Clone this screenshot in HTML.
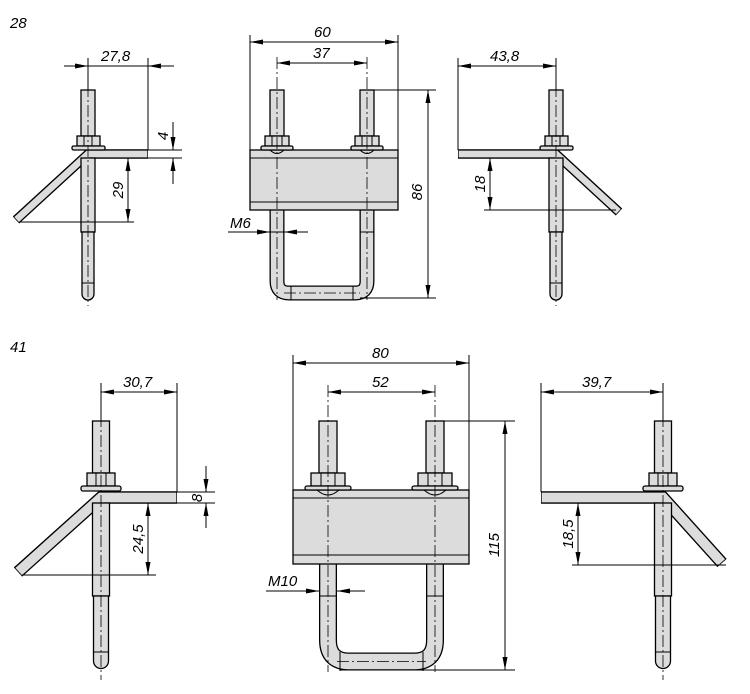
<!DOCTYPE html>
<html><head><meta charset="utf-8"><style>
html,body{margin:0;padding:0;background:#fff;}
svg{display:block;}
text{font-family:"Liberation Sans",sans-serif;font-style:italic;font-size:15px;fill:#000;}
.l{stroke:#000;stroke-width:1;fill:none;}
.c{stroke:#000;stroke-width:0.8;stroke-dasharray:12 3 2 3;fill:none;}
.b{fill:#dcdcdc;stroke:#000;stroke-width:1.3;}
.d{stroke:#000;stroke-width:1;fill:none;}
</style></head><body>
<svg width="750" height="694" viewBox="0 0 750 694" xmlns="http://www.w3.org/2000/svg">
<defs>
<marker id="a" markerUnits="userSpaceOnUse" markerWidth="14" markerHeight="6" refX="13" refY="2.5" orient="auto-start-reverse"><path d="M0,0 L13,2.5 L0,5 z" fill="#000"/></marker>
</defs>
<text x="10" y="28">28</text>
<text x="10" y="352">41</text>

<!-- ===== TOP LEFT ===== -->
<g>
<path d="M148,154 H88 L16,220" stroke="#000" stroke-width="9.5" fill="none"/>
<path d="M147.3,154 H88 L16.6,219.5" stroke="#dcdcdc" stroke-width="6.8" fill="none"/>
<rect class="b" x="81" y="90" width="14" height="46"/>
<rect class="b" x="81" y="158" width="14" height="74"/>
<path class="b" d="M82,232 V294 A6,6 0 0 0 94,294 V232 Z"/>
<line class="l" x1="82" y1="283" x2="94" y2="283"/>
<rect class="b" x="77" y="136" width="23" height="10"/>
<line class="l" x1="84" y1="136" x2="84" y2="146"/><line class="l" x1="92" y1="136" x2="92" y2="146"/>
<rect class="b" x="72" y="146" width="33" height="4" rx="1.5"/>
<line class="c" x1="88" y1="85" x2="88" y2="306"/>
<line class="d" x1="88" y1="58" x2="88" y2="90"/>
<line class="d" x1="148" y1="58" x2="148" y2="150"/>
<line class="d" x1="88" y1="66" x2="148" y2="66"/>
<line class="d" x1="64" y1="66" x2="88" y2="66" marker-end="url(#a)"/>
<line class="d" x1="174" y1="66" x2="148" y2="66" marker-end="url(#a)"/>
<text x="101" y="61">27,8</text>
<line class="d" x1="148" y1="150" x2="182" y2="150"/>
<line class="d" x1="148" y1="158" x2="182" y2="158"/>
<line class="d" x1="173" y1="122" x2="173" y2="150" marker-end="url(#a)"/>
<line class="d" x1="173" y1="184" x2="173" y2="158" marker-end="url(#a)"/>
<text transform="translate(168,136) rotate(-90)" text-anchor="middle">4</text>
<line class="d" x1="20" y1="222" x2="134" y2="222"/>
<line class="d" x1="128" y1="158" x2="128" y2="222" marker-start="url(#a)" marker-end="url(#a)"/>
<text transform="translate(123,190) rotate(-90)" text-anchor="middle">29</text>
</g>

<!-- ===== TOP MIDDLE ===== -->
<g>
<rect class="b" x="270" y="90" width="14" height="46"/>
<rect class="b" x="360" y="90" width="14" height="46"/>
<path d="M277,210 V281 Q277,293 289,293 H355 Q367,293 367,281 V210" stroke="#000" stroke-width="15" fill="none"/>
<path d="M277,210 V281 Q277,293 289,293 H355 Q367,293 367,281 V210" stroke="#dcdcdc" stroke-width="12.4" fill="none"/>
<line class="l" x1="270" y1="232" x2="284" y2="232"/><line class="l" x1="360" y1="232" x2="374" y2="232"/>
<line class="l" x1="291" y1="286" x2="291" y2="300"/><line class="l" x1="353" y1="286" x2="353" y2="300"/>
<rect class="b" x="250" y="150" width="148" height="60"/>
<line class="l" x1="250" y1="158" x2="398" y2="158"/>
<line class="l" x1="250" y1="202" x2="398" y2="202"/>
<rect class="b" x="265" y="136" width="24" height="10"/><rect class="b" x="355" y="136" width="24" height="10"/>
<line class="l" x1="272" y1="136" x2="272" y2="146"/><line class="l" x1="282" y1="136" x2="282" y2="146"/>
<line class="l" x1="362" y1="136" x2="362" y2="146"/><line class="l" x1="372" y1="136" x2="372" y2="146"/>
<rect class="b" x="261" y="146" width="32" height="4" rx="1.5"/><rect class="b" x="351" y="146" width="32" height="4" rx="1.5"/>
<path class="l" d="M270,150 Q277,157 284,150 M360,150 Q367,157 374,150"/>
<line class="c" x1="277" y1="57" x2="277" y2="300"/>
<line class="c" x1="367" y1="57" x2="367" y2="300"/>
<line class="c" x1="284" y1="293" x2="360" y2="293"/>
<line class="d" x1="250" y1="35" x2="250" y2="150"/>
<line class="d" x1="398" y1="35" x2="398" y2="150"/>
<line class="d" x1="250" y1="42" x2="398" y2="42" marker-start="url(#a)" marker-end="url(#a)"/>
<text x="314" y="37">60</text>
<line class="d" x1="277" y1="63" x2="367" y2="63" marker-start="url(#a)" marker-end="url(#a)"/>
<text x="313" y="58">37</text>
<line class="d" x1="374" y1="90" x2="436" y2="90"/>
<line class="d" x1="360" y1="298" x2="436" y2="298"/>
<line class="d" x1="428" y1="90" x2="428" y2="298" marker-start="url(#a)" marker-end="url(#a)"/>
<text transform="translate(422,192) rotate(-90)" text-anchor="middle">86</text>
<line class="d" x1="228" y1="232" x2="270" y2="232" marker-end="url(#a)"/>
<line class="d" x1="308" y1="232" x2="284" y2="232" marker-end="url(#a)"/>
<text x="230" y="228">M6</text>
</g>

<!-- ===== TOP RIGHT ===== -->
<g>
<path d="M458,154 H556 L619,212" stroke="#000" stroke-width="9.5" fill="none"/>
<path d="M458.7,154 H556 L618.4,211.5" stroke="#dcdcdc" stroke-width="6.8" fill="none"/>
<rect class="b" x="549" y="90" width="14" height="46"/>
<rect class="b" x="549" y="158" width="14" height="74"/>
<path class="b" d="M550,232 V294 A6,6 0 0 0 562,294 V232 Z"/>
<line class="l" x1="550" y1="283" x2="562" y2="283"/>
<rect class="b" x="545" y="136" width="23" height="10"/>
<line class="l" x1="552" y1="136" x2="552" y2="146"/><line class="l" x1="560" y1="136" x2="560" y2="146"/>
<rect class="b" x="540" y="146" width="33" height="4" rx="1.5"/>
<line class="c" x1="556" y1="85" x2="556" y2="306"/>
<line class="d" x1="458" y1="58" x2="458" y2="150"/>
<line class="d" x1="556" y1="58" x2="556" y2="90"/>
<line class="d" x1="458" y1="66" x2="556" y2="66" marker-start="url(#a)" marker-end="url(#a)"/>
<text x="490" y="61">43,8</text>
<line class="d" x1="484" y1="210" x2="616" y2="210"/>
<line class="d" x1="490" y1="158" x2="490" y2="210" marker-start="url(#a)" marker-end="url(#a)"/>
<text transform="translate(485,184) rotate(-90)" text-anchor="middle">18</text>
</g>

<!-- ===== BOTTOM LEFT ===== -->
<g>
<path d="M177,497.5 H101 L18,572" stroke="#000" stroke-width="12.5" fill="none"/>
<path d="M176.3,497.5 H101 L18.7,571.5" stroke="#dcdcdc" stroke-width="9.8" fill="none"/>
<rect class="b" x="92.5" y="421" width="17" height="52"/>
<rect class="b" x="92.5" y="503" width="17" height="93"/>
<path class="b" d="M93.5,596 V661 A7.5,7.5 0 0 0 108.5,661 V596 Z"/>
<line class="l" x1="94" y1="652" x2="108" y2="652"/>
<rect class="b" x="87" y="473" width="28" height="13"/>
<line class="l" x1="96" y1="473" x2="96" y2="486"/><line class="l" x1="106" y1="473" x2="106" y2="486"/>
<rect class="b" x="81" y="486" width="40" height="5" rx="2"/>
<line class="c" x1="101" y1="415" x2="101" y2="680"/>
<line class="d" x1="101" y1="383" x2="101" y2="421"/>
<line class="d" x1="177" y1="383" x2="177" y2="492"/>
<line class="d" x1="101" y1="392" x2="177" y2="392" marker-start="url(#a)" marker-end="url(#a)"/>
<text x="123" y="387">30,7</text>
<line class="d" x1="177" y1="492" x2="215" y2="492"/>
<line class="d" x1="177" y1="503" x2="215" y2="503"/>
<line class="d" x1="206" y1="466" x2="206" y2="492" marker-end="url(#a)"/>
<line class="d" x1="206" y1="528" x2="206" y2="503" marker-end="url(#a)"/>
<text transform="translate(202,498) rotate(-90)" text-anchor="middle">8</text>
<line class="d" x1="22" y1="575" x2="156" y2="575"/>
<line class="d" x1="148" y1="503" x2="148" y2="575" marker-start="url(#a)" marker-end="url(#a)"/>
<text transform="translate(143,539) rotate(-90)" text-anchor="middle">24,5</text>
</g>

<!-- ===== BOTTOM MIDDLE ===== -->
<g>
<rect class="b" x="319" y="421" width="18" height="52"/>
<rect class="b" x="426" y="421" width="18" height="52"/>
<path d="M328,564 V640 Q328,661.5 349,661.5 H414 Q435,661.5 435,640 V564" stroke="#000" stroke-width="18" fill="none"/>
<path d="M328,564 V640 Q328,661.5 349,661.5 H414 Q435,661.5 435,640 V564" stroke="#dcdcdc" stroke-width="15.4" fill="none"/>
<line class="l" x1="319" y1="596" x2="337" y2="596"/><line class="l" x1="426" y1="596" x2="444" y2="596"/>
<line class="l" x1="340" y1="652" x2="340" y2="671"/><line class="l" x1="423" y1="652" x2="423" y2="671"/>
<rect class="b" x="293" y="490" width="176" height="74"/>
<line class="l" x1="293" y1="498" x2="469" y2="498"/>
<line class="l" x1="293" y1="555" x2="469" y2="555"/>
<rect class="b" x="311" y="473" width="34" height="13"/><rect class="b" x="418" y="473" width="34" height="13"/>
<line class="l" x1="321" y1="473" x2="321" y2="486"/><line class="l" x1="335" y1="473" x2="335" y2="486"/>
<line class="l" x1="428" y1="473" x2="428" y2="486"/><line class="l" x1="442" y1="473" x2="442" y2="486"/>
<rect class="b" x="305" y="486" width="46" height="4" rx="2"/><rect class="b" x="412" y="486" width="46" height="4" rx="2"/>
<path class="l" d="M317,490 Q328,500 339,490 M424,490 Q435,500 446,490"/>
<line class="c" x1="328" y1="385" x2="328" y2="672"/>
<line class="c" x1="435" y1="385" x2="435" y2="672"/>
<line class="c" x1="337" y1="661.5" x2="426" y2="661.5"/>
<line class="d" x1="293" y1="355" x2="293" y2="490"/>
<line class="d" x1="469" y1="355" x2="469" y2="490"/>
<line class="d" x1="293" y1="363" x2="469" y2="363" marker-start="url(#a)" marker-end="url(#a)"/>
<text x="372" y="358">80</text>
<line class="d" x1="328" y1="392" x2="435" y2="392" marker-start="url(#a)" marker-end="url(#a)"/>
<text x="372" y="387">52</text>
<line class="d" x1="437" y1="421" x2="515" y2="421"/>
<line class="d" x1="340" y1="670" x2="515" y2="670"/>
<line class="d" x1="505" y1="421" x2="505" y2="670" marker-start="url(#a)" marker-end="url(#a)"/>
<text transform="translate(499,545) rotate(-90)" text-anchor="middle">115</text>
<line class="d" x1="266" y1="591" x2="319" y2="591" marker-end="url(#a)"/>
<line class="d" x1="365" y1="591" x2="337" y2="591" marker-end="url(#a)"/>
<text x="268" y="586">M10</text>
</g>

<!-- ===== BOTTOM RIGHT ===== -->
<g>
<path d="M541,497.5 H663 L722,563" stroke="#000" stroke-width="12.5" fill="none"/>
<path d="M541.7,497.5 H663 L721.4,562.4" stroke="#dcdcdc" stroke-width="9.8" fill="none"/>
<rect class="b" x="654.5" y="421" width="17" height="52"/>
<rect class="b" x="654.5" y="503" width="17" height="93"/>
<path class="b" d="M655.5,596 V661 A7.5,7.5 0 0 0 670.5,661 V596 Z"/>
<line class="l" x1="656" y1="652" x2="670" y2="652"/>
<rect class="b" x="649" y="473" width="28" height="13"/>
<line class="l" x1="658" y1="473" x2="658" y2="486"/><line class="l" x1="668" y1="473" x2="668" y2="486"/>
<rect class="b" x="643" y="486" width="40" height="5" rx="2"/>
<line class="c" x1="663" y1="415" x2="663" y2="680"/>
<line class="d" x1="541" y1="383" x2="541" y2="492"/>
<line class="d" x1="663" y1="383" x2="663" y2="421"/>
<line class="d" x1="541" y1="392" x2="663" y2="392" marker-start="url(#a)" marker-end="url(#a)"/>
<text x="582" y="387">39,7</text>
<line class="d" x1="572" y1="565" x2="726" y2="565"/>
<line class="d" x1="578" y1="503" x2="578" y2="565" marker-start="url(#a)" marker-end="url(#a)"/>
<text transform="translate(573,534) rotate(-90)" text-anchor="middle">18,5</text>
</g>
</svg>
</body></html>
